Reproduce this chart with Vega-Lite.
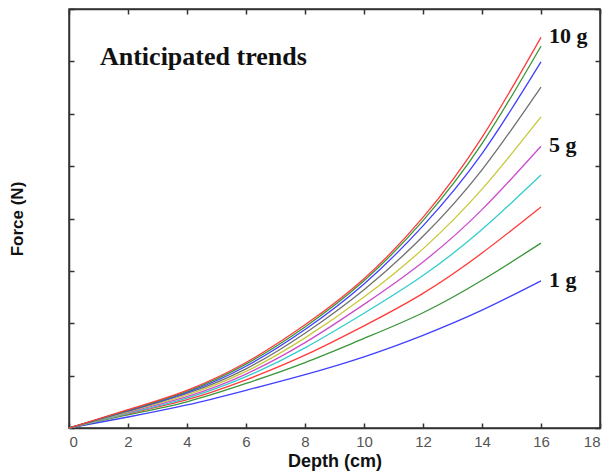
{
  "$schema": "https://vega.github.io/schema/vega-lite/v6.json",
  "autosize": "none",
  "width": 531,
  "height": 419,
  "padding": {"left": 69, "top": 9, "right": 10, "bottom": 47},
  "background": "white",
  "config": {
    "view": {"stroke": "#333", "strokeWidth": 1.5},
    "axis": {"domainColor": "#333", "domainWidth": 1.5, "tickColor": "#333", "tickWidth": 1.5, "tickSize": -5, "grid": false}
  },
  "data": {"values": [
    {"m":"1 g","d":0,"f":0},{"m":"1 g","d":2,"f":0.21},{"m":"1 g","d":4,"f":0.44},{"m":"1 g","d":6,"f":0.72},{"m":"1 g","d":8,"f":1.02},{"m":"1 g","d":10,"f":1.36},{"m":"1 g","d":12,"f":1.77},{"m":"1 g","d":14,"f":2.25},{"m":"1 g","d":16,"f":2.81},
    {"m":"2 g","d":0,"f":0},{"m":"2 g","d":2,"f":0.25},{"m":"2 g","d":4,"f":0.50},{"m":"2 g","d":6,"f":0.85},{"m":"2 g","d":8,"f":1.25},{"m":"2 g","d":10,"f":1.71},{"m":"2 g","d":12,"f":2.20},{"m":"2 g","d":14,"f":2.82},{"m":"2 g","d":16,"f":3.53},
    {"m":"3 g","d":0,"f":0},{"m":"3 g","d":2,"f":0.27},{"m":"3 g","d":4,"f":0.54},{"m":"3 g","d":6,"f":0.92},{"m":"3 g","d":8,"f":1.39},{"m":"3 g","d":10,"f":1.95},{"m":"3 g","d":12,"f":2.57},{"m":"3 g","d":14,"f":3.34},{"m":"3 g","d":16,"f":4.22},
    {"m":"4 g","d":0,"f":0},{"m":"4 g","d":2,"f":0.28},{"m":"4 g","d":4,"f":0.57},{"m":"4 g","d":6,"f":0.98},{"m":"4 g","d":8,"f":1.53},{"m":"4 g","d":10,"f":2.19},{"m":"4 g","d":12,"f":2.91},{"m":"4 g","d":14,"f":3.79},{"m":"4 g","d":16,"f":4.83},
    {"m":"5 g","d":0,"f":0},{"m":"5 g","d":2,"f":0.30},{"m":"5 g","d":4,"f":0.60},{"m":"5 g","d":6,"f":1.03},{"m":"5 g","d":8,"f":1.63},{"m":"5 g","d":10,"f":2.36},{"m":"5 g","d":12,"f":3.17},{"m":"5 g","d":14,"f":4.17},{"m":"5 g","d":16,"f":5.38},
    {"m":"6 g","d":0,"f":0},{"m":"6 g","d":2,"f":0.31},{"m":"6 g","d":4,"f":0.63},{"m":"6 g","d":6,"f":1.08},{"m":"6 g","d":8,"f":1.72},{"m":"6 g","d":10,"f":2.50},{"m":"6 g","d":12,"f":3.42},{"m":"6 g","d":14,"f":4.56},{"m":"6 g","d":16,"f":5.94},
    {"m":"7 g","d":0,"f":0},{"m":"7 g","d":2,"f":0.32},{"m":"7 g","d":4,"f":0.66},{"m":"7 g","d":6,"f":1.13},{"m":"7 g","d":8,"f":1.81},{"m":"7 g","d":10,"f":2.64},{"m":"7 g","d":12,"f":3.66},{"m":"7 g","d":14,"f":4.93},{"m":"7 g","d":16,"f":6.51},
    {"m":"8 g","d":0,"f":0},{"m":"8 g","d":2,"f":0.33},{"m":"8 g","d":4,"f":0.68},{"m":"8 g","d":6,"f":1.18},{"m":"8 g","d":8,"f":1.88},{"m":"8 g","d":10,"f":2.75},{"m":"8 g","d":12,"f":3.86},{"m":"8 g","d":14,"f":5.24},{"m":"8 g","d":16,"f":6.99},
    {"m":"9 g","d":0,"f":0},{"m":"9 g","d":2,"f":0.34},{"m":"9 g","d":4,"f":0.70},{"m":"9 g","d":6,"f":1.22},{"m":"9 g","d":8,"f":1.93},{"m":"9 g","d":10,"f":2.81},{"m":"9 g","d":12,"f":3.96},{"m":"9 g","d":14,"f":5.43},{"m":"9 g","d":16,"f":7.29},
    {"m":"10 g","d":0,"f":0},{"m":"10 g","d":2,"f":0.35},{"m":"10 g","d":4,"f":0.72},{"m":"10 g","d":6,"f":1.25},{"m":"10 g","d":8,"f":1.97},{"m":"10 g","d":10,"f":2.85},{"m":"10 g","d":12,"f":4.02},{"m":"10 g","d":14,"f":5.55},{"m":"10 g","d":16,"f":7.46}
  ]},
  "layer": [
    {
      "mark": {"type": "line", "interpolate": "natural", "strokeWidth": 1.3},
      "encoding": {
        "x": {"field": "d", "type": "quantitative", "scale": {"domain": [0, 18], "nice": false},
          "axis": {"orient": "bottom", "values": [0,2,4,6,8,10,12,14,16,18], "labelFont": "Liberation Sans", "labelFontSize": 15, "labelColor": "#555", "labelPadding": 11, "title": "Depth (cm)", "titleFont": "Liberation Sans", "titleFontSize": 18, "titleFontWeight": "bold", "titleColor": "#111", "titlePadding": 3}},
        "y": {"field": "f", "type": "quantitative", "scale": {"domain": [0, 8], "nice": false},
          "axis": {"orient": "left", "values": [0,1,2,3,4,5,6,7,8], "labels": false, "title": "Force (N)", "titleFont": "Liberation Sans", "titleFontSize": 17, "titleFontWeight": "bold", "titleColor": "#111", "titlePadding": 42}},
        "color": {"field": "m", "type": "nominal", "legend": null,
          "scale": {"domain": ["1 g","2 g","3 g","4 g","5 g","6 g","7 g","8 g","9 g","10 g"],
                    "range": ["#4040ff","#3a963a","#ff3b3b","#33cccc","#cc4ccc","#c8c83a","#707070","#4040ff","#3a963a","#ff3b3b"]}}
      }
    },
    {
      "transform": [{"filter": "datum.d == 16 && (datum.m == '1 g' || datum.m == '5 g' || datum.m == '10 g')"}],
      "mark": {"type": "text", "align": "left", "baseline": "middle", "dx": 8, "dy": -1, "font": "Liberation Serif", "fontSize": 22, "fontWeight": "bold", "color": "#111"},
      "encoding": {
        "x": {"field": "d", "type": "quantitative", "scale": {"domain": [0, 18], "nice": false}, "axis": null},
        "y": {"field": "f", "type": "quantitative", "scale": {"domain": [0, 8], "nice": false}, "axis": null},
        "text": {"field": "m"}
      }
    },
    {
      "data": {"values": [{"label": "Anticipated trends"}]},
      "mark": {"type": "text", "align": "left", "baseline": "alphabetic", "font": "Liberation Serif", "fontSize": 26, "fontWeight": "bold", "color": "#111"},
      "encoding": {
        "x": {"datum": 1.05, "type": "quantitative", "scale": {"domain": [0, 18], "nice": false}, "axis": null},
        "y": {"datum": 6.93, "type": "quantitative", "scale": {"domain": [0, 8], "nice": false}, "axis": null},
        "text": {"field": "label"}
      }
    },
    {
      "mark": {"type": "line", "opacity": 0},
      "encoding": {
        "x": {"field": "d", "type": "quantitative", "scale": {"domain": [0, 18], "nice": false},
          "axis": {"orient": "top", "values": [0,2,4,6,8,10,12,14,16,18], "labels": false, "title": null}},
        "y": {"field": "f", "type": "quantitative", "scale": {"domain": [0, 8], "nice": false},
          "axis": {"orient": "right", "values": [0,1,2,3,4,5,6,7,8], "labels": false, "title": null}},
        "detail": {"field": "m"}
      }
    }
  ],
  "resolve": {"scale": {"x": "independent", "y": "independent", "color": "independent"}}
}
